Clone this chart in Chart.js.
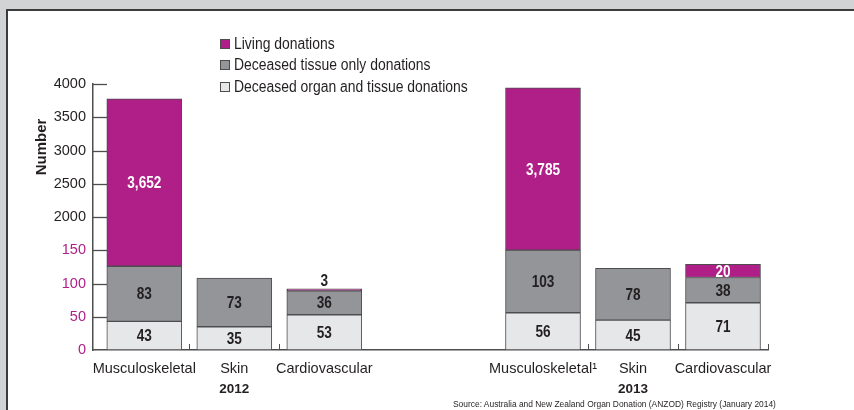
<!DOCTYPE html>
<html><head><meta charset="utf-8">
<script src="https://cdn.jsdelivr.net/npm/chart.js@4/dist/chart.umd.min.js"></script>
<style>
html,body{margin:0;padding:0;background:#d1d3d4;width:854px;height:410px;overflow:hidden;}
#panel{position:absolute;left:6px;top:9px;width:870px;height:430px;background:#fff;border-left:2px solid #3b3b3c;border-top:2px solid #3b3b3c;}
#wrap{position:absolute;left:0;top:0;width:854px;height:410px;}
#legend{position:absolute;left:220px;top:33px;font:16px "Liberation Sans",Arial,sans-serif;color:#231f20;}
.item{display:flex;align-items:center;height:21.5px;white-space:nowrap;}
.box{width:8px;height:8px;border:1px solid #4d4d4f;margin-right:4px;flex:none;}
.txt{display:inline-block;transform:scaleX(0.87);transform-origin:0 50%;}
#source{position:absolute;left:453px;top:398px;font:9.5px "Liberation Sans",Arial,sans-serif;color:#231f20;white-space:nowrap;transform:scaleX(0.885);transform-origin:0 50%;}
</style></head>
<body>
<div id="panel"></div>
<div id="wrap"><canvas id="c" width="854" height="410"></canvas></div>
<div id="legend"></div>
<div id="source">Source: Australia and New Zealand Organ Donation (ANZOD) Registry (January 2014)</div>
<script>
// ---- data ----
const categories = ['Musculoskeletal','Skin','Cardiovascular','Musculoskeletal\u00b9','Skin','Cardiovascular'];
const years = ['', '2012', '', '', '2013', ''];
const deceasedOrganAndTissue = [43, 35, 53, 56, 45, 71];
const deceasedTissueOnly = [83, 73, 36, 103, 78, 38];
const livingDonations = [3652, 0, 3, 3785, 0, 20];
const yTickValues = [0, 50, 100, 150, 2000, 2500, 3000, 3500, 4000];
const seriesNames = ['Deceased organ and tissue donations', 'Deceased tissue only donations', 'Living donations'];

// ---- styles ----
const MAGENTA = '#b01f87';
const DARK = '#231f20';
const EDGE = '#4d4d4f';
const FONT = '"Liberation Sans",Arial,sans-serif';
const GROUP = 3, LEAD = 0.07, GAP = 1.43;

// broken y axis: 0-150 lower band, 2000-4000 upper band
function toUnits(v){
  if (v <= 150) return v / 50;
  if (v <= 2000) return 3 + (v - 150) / 1850;
  return 4 + (v - 2000) / 500;
}
function fromUnits(u){
  if (u <= 3) return u * 50;
  if (u <= 4) return 150 + (u - 3) * 1850;
  return 2000 + (u - 4) * 500;
}
class BrokenY extends Chart.LinearScale {
  buildTicks(){ return yTickValues.map(v => ({value: v})); }
  getPixelForValue(v){ return this.getPixelForDecimal(toUnits(v) / 8); }
  getValueForPixel(p){ return fromUnits(this.getDecimalForPixel(p) * 8); }
}
BrokenY.id = 'brokenY';
BrokenY.defaults = Chart.LinearScale.defaults;

class GappedX extends Chart.CategoryScale {
  buildTicks(){
    const t = super.buildTicks();
    this._startValue -= LEAD;
    this._valueRange += LEAD + GAP;
    return t;
  }
  getPixelForValue(value){
    if (typeof value !== 'number') value = this.parse(value);
    if (value === null || value === undefined || isNaN(value)) return NaN;
    const v = value + (value >= GROUP - 0.5 ? GAP : 0);
    return this.getPixelForDecimal((v - this._startValue) / this._valueRange);
  }
}
GappedX.id = 'gappedX';
GappedX.defaults = Chart.CategoryScale.defaults;
Chart.register(BrokenY, GappedX);

const colors = ['#e6e7e8', '#939598', MAGENTA];
const seriesData = [deceasedOrganAndTissue, deceasedTissueOnly, livingDonations];

const decor = {
  id: 'decor',
  afterDraw(chart){
    const ctx = chart.ctx, ca = chart.chartArea, y = chart.scales.y, x = chart.scales.x;
    ctx.save();
    ctx.strokeStyle = EDGE; ctx.lineWidth = 1.3;
    // inward y tick marks
    yTickValues.forEach(v => {
      if (v === 0) return;
      const py = Math.round(y.getPixelForValue(v)) + 0.5;
      ctx.beginPath(); ctx.moveTo(ca.left, py); ctx.lineTo(ca.left + 14, py); ctx.stroke();
    });
    // separator marks between bars of a year group, and at the end
    const marks = [];
    for (let i = 1; i < categories.length; i++) {
      if (i % GROUP === 0) continue;
      marks.push((x.getPixelForValue(i - 1) + x.getPixelForValue(i)) / 2);
    }
    marks.push(ca.right);
    ctx.lineWidth = 1;
    marks.forEach(px => {
      const p = Math.round(px) + 0.5;
      ctx.beginPath(); ctx.moveTo(p, ca.bottom); ctx.lineTo(p, ca.bottom - 6); ctx.stroke();
    });
    // y axis title
    ctx.fillStyle = DARK;
    ctx.font = 'bold 15px ' + FONT;
    ctx.translate(42, 147); ctx.rotate(-Math.PI / 2);
    ctx.textAlign = 'center'; ctx.textBaseline = 'middle';
    ctx.fillText('Number', 0, 0);
    ctx.restore();
  },
  afterDatasetsDraw(chart){
    const ctx = chart.ctx;
    chart.data.datasets.forEach((ds, di) => {
      const meta = chart.getDatasetMeta(di);
      meta.data.forEach((el, i) => {
        const v = ds.data[i];
        if (!v) return;
        const top = Math.min(el.y, el.base), bot = Math.max(el.y, el.base);
        const h = bot - top;
        let ty, col;
        if (h < 8) { ty = top - 8; col = DARK; }
        else { ty = (top + bot) / 2 + 1; col = di === 2 ? '#ffffff' : DARK; }
        ctx.save();
        ctx.font = 'bold 17px ' + FONT;
        ctx.textAlign = 'center'; ctx.textBaseline = 'middle';
        ctx.fillStyle = col;
        ctx.translate(el.x, ty); ctx.scale(0.8, 1);
        ctx.fillText(v.toLocaleString('en-US'), 0, 0);
        ctx.restore();
      });
    });
  }
};

const chart = new Chart(document.getElementById('c'), {
  type: 'bar',
  data: {
    labels: categories,
    datasets: seriesData.map((d, i) => ({
      label: seriesNames[i],
      data: d,
      backgroundColor: colors[i],
      borderColor: EDGE,
      borderWidth: 1,
      borderSkipped: false,
      barThickness: 75
    }))
  },
  options: {
    responsive: false,
    animation: false,
    events: [],
    layout: { padding: { left: 0, top: 84, right: 86, bottom: 8 } },
    plugins: { legend: { display: false }, tooltip: { enabled: false }, title: { display: false } },
    scales: {
      x: {
        type: 'gappedX', stacked: true, position: 'bottom',
        grid: { display: false, drawTicks: false },
        border: { display: true, color: EDGE, width: 1.5 },
        ticks: { autoSkip: false, maxRotation: 0, color: DARK, padding: 10, font: { family: FONT, size: 14.5 } },
        afterFit: s => { s.height = 30; }
      },
      x2: {
        type: 'gappedX', position: 'bottom', labels: years,
        grid: { display: false, drawTicks: false },
        border: { display: false },
        ticks: { autoSkip: false, maxRotation: 0, color: DARK, padding: 1, font: { family: FONT, size: 13.5, weight: 'bold' } },
        afterFit: s => { s.height = 22; }
      },
      y: {
        type: 'brokenY', stacked: true, min: 0, max: 4000,
        grid: { display: false, drawTicks: false },
        border: { display: true, color: EDGE, width: 1.5 },
        ticks: {
          padding: 7,
          color: c => (c.tick && c.tick.value <= 150) ? MAGENTA : DARK,
          font: { family: FONT, size: 14.5 },
          callback: v => String(v)
        },
        afterFit: s => { s.width = 93; }
      }
    }
  },
  plugins: [decor]
});

// HTML legend (top entry = top of stack)
const lg = document.getElementById('legend');
chart.data.datasets.slice().reverse().forEach(ds => {
  const it = document.createElement('div'); it.className = 'item';
  const b = document.createElement('span'); b.className = 'box'; b.style.background = ds.backgroundColor;
  const t = document.createElement('span'); t.className = 'txt'; t.textContent = ds.label;
  it.appendChild(b); it.appendChild(t); lg.appendChild(it);
});
</script>
</body></html>
